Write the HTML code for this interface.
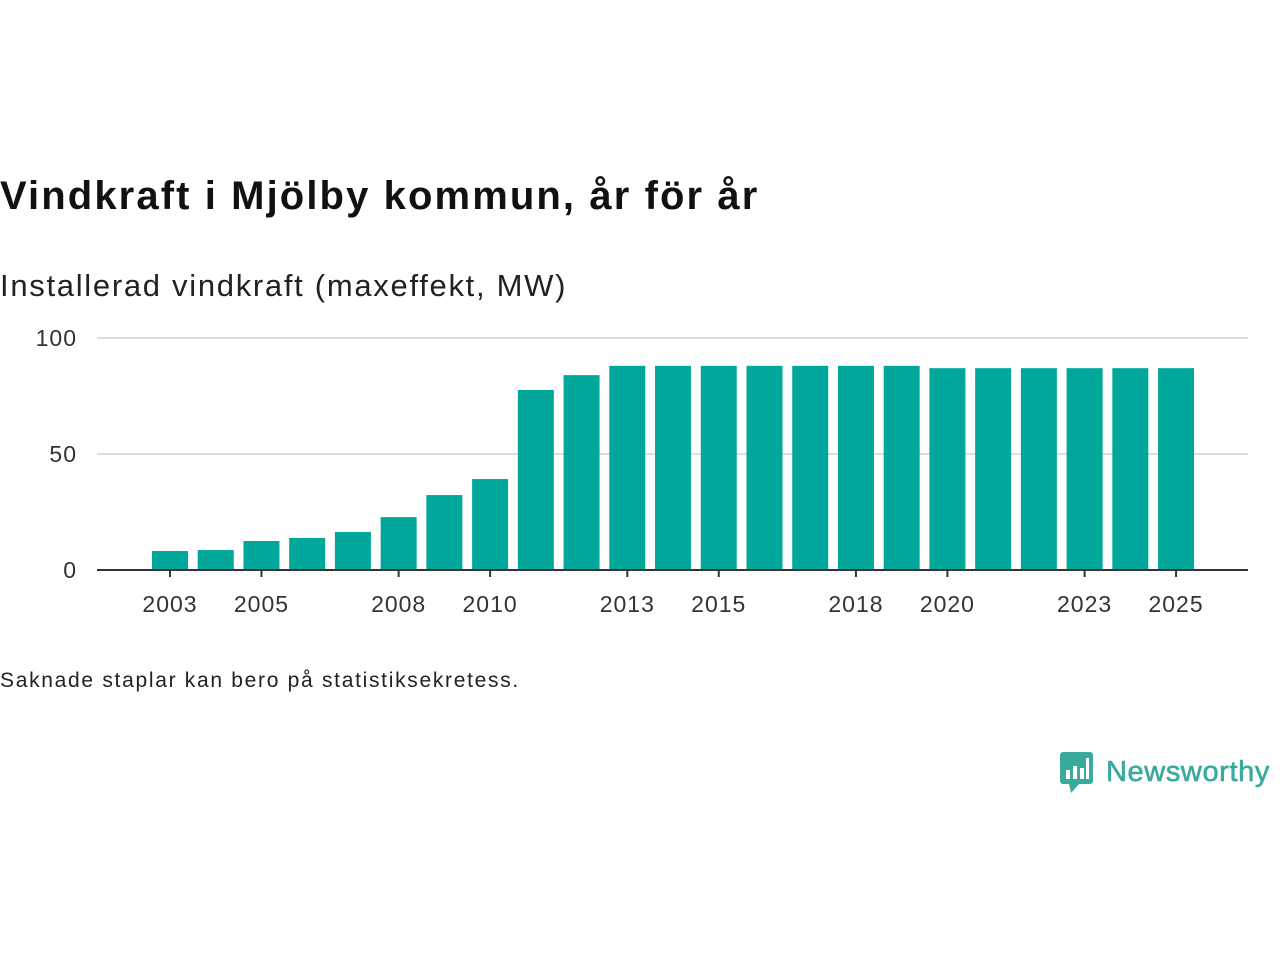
<!DOCTYPE html>
<html><head><meta charset="utf-8"><style>
body{margin:0;width:1280px;height:960px;background:#fff;font-family:"Liberation Sans","DejaVu Sans",sans-serif;overflow:hidden;position:relative}
.t{position:absolute;left:0;white-space:nowrap}
</style></head><body>
<div class="t" style="top:174px;font-size:40px;font-weight:bold;color:#111;letter-spacing:2.1px">Vindkraft i Mjölby kommun, år för år</div>
<div class="t" style="top:268px;font-size:31px;color:#222;letter-spacing:1.7px">Installerad vindkraft (maxeffekt, MW)</div>
<svg id="chart" width="1280" height="640" style="position:absolute;left:0;top:0"></svg>
<div class="t" style="top:669px;font-size:21px;color:#222;letter-spacing:1.7px">Saknade staplar kan bero på statistiksekretess.</div>
<div style="position:absolute;left:1059px;top:750px;display:flex;align-items:center">
<svg width="36" height="44"><rect x="1" y="2" width="33" height="32" rx="3" fill="#3aa99e"/><polygon points="10,34 20,34 12,43" fill="#3aa99e"/><rect x="7" y="20" width="4" height="9" fill="#fff"/><rect x="14" y="16" width="4" height="13" fill="#fff"/><rect x="21" y="18" width="4" height="11" fill="#fff"/><rect x="27" y="8" width="3" height="21" fill="#fff"/></svg>
<span style="font-size:29px;color:#3aa99e;margin-left:11px;letter-spacing:0.6px;-webkit-text-stroke:0.6px #3aa99e">Newsworthy</span></div>
<script>
const years=[2003,2004,2005,2006,2007,2008,2009,2010,2011,2012,2013,2014,2015,2016,2017,2018,2019,2020,2021,2022,2023,2024,2025];
const values=[8.2,8.6,12.5,13.8,16.4,22.8,32.3,39.2,77.6,84,88,88,88,88,88,88,88,87,87,87,87,87,87];
const yTicks=[0,50,100];
const xLabels=[2003,2005,2008,2010,2013,2015,2018,2020,2023,2025];
const svg=document.getElementById('chart');const NS='http://www.w3.org/2000/svg';
const y=v=>570-v*2.32, x=yr=>170+(yr-2003)*45.73;
function mk(t,a){const e=document.createElementNS(NS,t);for(const k in a)e.setAttribute(k,a[k]);svg.appendChild(e);return e;}
yTicks.forEach(v=>{
 if(v>0){const g=mk('line',{x1:97,x2:1248,y1:y(v),y2:y(v),stroke:'#ddd','stroke-width':2});
 
 }
 const t=mk('text',{x:77,y:y(v)+8,'text-anchor':'end','font-size':23,fill:'#333','letter-spacing':1});t.textContent=v;
 
 
});
years.forEach((yr,i)=>{
 const r=mk('rect',{x:x(yr)-18,y:y(values[i]),width:36,height:570-y(values[i]),fill:'#00a79a'});
 
 
});
const ax=mk('line',{x1:97,x2:1248,y1:570,y2:570,stroke:'#333','stroke-width':2});


xLabels.forEach(yr=>{
 const tk=mk('line',{x1:x(yr),x2:x(yr),y1:570,y2:577,stroke:'#333','stroke-width':2});
 
 
 const t=mk('text',{x:x(yr),y:612,'text-anchor':'middle','font-size':23,fill:'#333','letter-spacing':1});t.textContent=yr;
 
 
});
</script>
</body></html>
